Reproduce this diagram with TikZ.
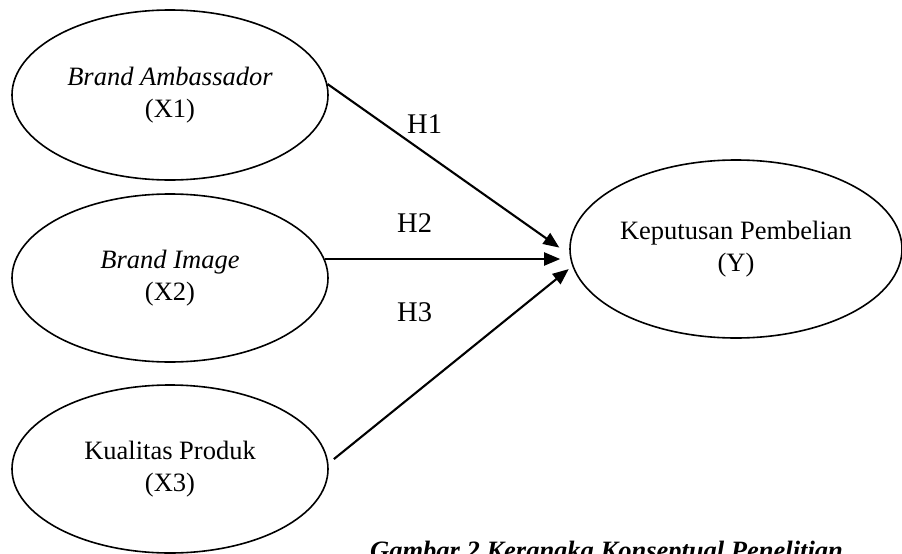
\documentclass[tikz,border=0pt]{standalone}
\usepackage{fontspec}
\setmainfont{Liberation Serif}
\usetikzlibrary{shapes.geometric,arrows.meta}

\tikzset{
  var/.style={ellipse, draw, line width=1.6pt, inner sep=0pt, align=center,
    font=\fontsize{26.5}{32}\selectfont},
  arr/.style={line width=2.1pt, -{Triangle[length=16pt,width=13pt]}},
  hyp/.style={anchor=base west, inner sep=0pt, font=\fontsize{28.5}{34}\selectfont},
}

\begin{document}
\begin{tikzpicture}[x=1pt,y=-1pt]
\useasboundingbox (0,0) rectangle (902,554);

% variables
\node[var, minimum width=316pt, minimum height=170pt] (x1) at (170,95)
  {\textit{Brand Ambassador}\\(X1)};
\node[var, minimum width=316pt, minimum height=168pt] (x2) at (170,278)
  {\textit{Brand Image}\\(X2)};
\node[var, minimum width=316pt, minimum height=168pt] (x3) at (170,469)
  {Kualitas Produk\\(X3)};
\node[var, minimum width=332pt, minimum height=178pt] (y) at (736,249)
  {Keputusan Pembelian\\(Y)};

% hypotheses
\draw[arr, shorten >=12.5pt] (x1.4) -- (y.182);
\draw[arr, shorten >=9pt] (x2.7) -- (x2.7 -| y.west);
\draw[arr, shorten <=7pt, shorten >=4.6pt] (x3.2) -- (y.186);

\node[hyp] (h1) at (407,133) {H1};
\node[hyp] (h2) at (397,232) {H2};
\node[hyp] (h3) at (397,321) {H3};

% caption, running off the lower edge of the page
\node[anchor=base west, inner sep=0pt, font=\fontsize{26.5}{32}\selectfont\bfseries\itshape]
  (cap) at (370,559) {Gambar 2 Kerangka Konseptual Penelitian};
\end{tikzpicture}
\end{document}
